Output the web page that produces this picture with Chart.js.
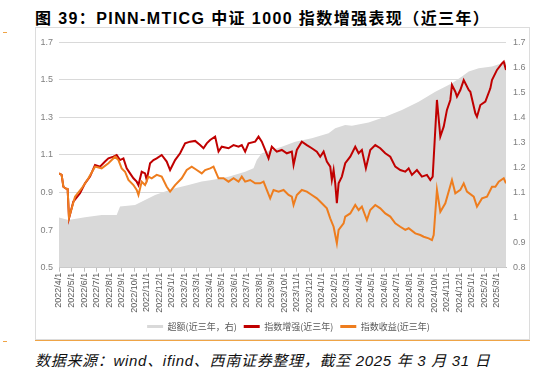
<!DOCTYPE html>
<html>
<head>
<meta charset="utf-8">
<script src="https://cdn.jsdelivr.net/npm/chart.js@4.4.1/dist/chart.umd.min.js"></script>
<style>
  body { margin:0; width:537px; height:376px; background:#fff; position:relative; overflow:hidden;
         font-family:"Liberation Sans","Noto Sans CJK SC",sans-serif; }
  #title { position:absolute; left:35px; top:5px; font-size:16px; font-weight:bold; letter-spacing:1.4px;
           white-space:nowrap; color:#000; }
  #box { position:absolute; left:35px; top:27px; width:495px; height:313px; border:1px solid #dcdcdc;
         box-sizing:border-box; }
  #rule { position:absolute; left:35px; top:340px; width:495px; height:0; border-top:1.5px solid #efa446; }
  .dash { position:absolute; left:3px; width:4px; height:1px; background:#efa446; }
  #src { position:absolute; left:35px; top:349px; font-size:15px; font-style:italic; letter-spacing:0.7px;
         white-space:nowrap; color:#111; }
  #chart { position:absolute; left:36px; top:28px; }
</style>
</head>
<body>
<div id="title">图 39：PINN-MTICG 中证 1000 指数增强表现（近三年）</div>
<div class="dash" style="top:32px"></div>
<div class="dash" style="top:341px"></div>
<div id="box"></div>
<canvas id="chart" width="493" height="311"></canvas>
<div id="rule"></div>
<div id="src">数据来源：wind、ifind、西南证券整理，截至 2025 年 3 月 31 日</div>
<script>
// month offsets from 2022/4/1
const monthLabels = [
  '2022/4/1','2022/5/1','2022/6/1','2022/7/1','2022/8/1','2022/9/1','2022/10/1','2022/11/1','2022/12/1',
  '2023/1/1','2023/2/1','2023/3/1','2023/4/1','2023/5/1','2023/6/1','2023/7/1','2023/8/1','2023/9/1',
  '2023/10/1','2023/11/1','2023/12/1','2024/1/1','2024/2/1','2024/3/1','2024/4/1','2024/5/1','2024/6/1',
  '2024/7/1','2024/8/1','2024/9/1','2024/10/1','2024/11/1','2024/12/1','2025/1/1','2025/2/1','2025/3/1'
];

// 超额 (right axis)
const excessX = [0,0.75,2.08,3.41,4.61,4.88,6.08,6.88,7.68,8.48,9.28,10.35,11.41,12.21,13.55,14.88,15.55,15.81,
  16.21,17.01,17.81,18.88,20.21,21.55,22.08,22.88,23.41,24.75,26.08,27.41,28.75,30.08,31.41,32.21,32.75,33.55,
  34.61,35.41,35.73];
const excessY = [1.000,0.990,1.001,1.010,1.010,1.044,1.050,1.070,1.090,1.104,1.117,1.130,1.144,1.150,1.163,1.183,
  1.197,1.230,1.257,1.270,1.283,1.303,1.317,1.337,1.357,1.370,1.367,1.380,1.403,1.430,1.463,1.503,1.536,1.563,
  1.583,1.596,1.603,1.616,1.623];

// 指数增强 (left axis)
const enhancedX = [0,0.21,0.35,0.53,0.69,0.80,1.15,1.68,2.08,2.48,2.88,3.28,3.68,3.95,4.35,4.61,4.88,5.15,5.41,
  5.68,5.95,6.21,6.35,6.61,6.88,7.01,7.28,7.55,7.81,8.21,8.61,8.88,9.28,9.68,10.08,10.48,10.88,11.28,11.55,11.81,
  12.08,12.48,12.75,13.01,13.55,13.95,14.35,14.61,14.88,15.15,15.68,15.95,16.21,16.48,16.75,17.01,17.41,17.81,
  18.21,18.61,18.75,19.01,19.41,19.81,20.21,20.61,20.88,21.15,21.41,21.68,21.81,21.95,22.08,22.21,22.35,22.61,
  22.88,23.28,23.68,23.95,24.21,24.53,24.88,25.28,25.68,26.08,26.48,26.88,27.28,27.68,27.95,28.21,28.61,29.01,
  29.41,29.68,29.87,30.21,30.48,30.75,31.01,31.28,31.41,31.68,31.81,32.08,32.35,32.75,32.88,33.28,33.41,33.68,
  34.08,34.48,34.61,35.01,35.41,35.55,35.73];
const enhancedY = [1.002,0.994,0.931,0.922,0.919,0.763,0.852,0.896,0.949,0.985,1.047,1.038,1.065,1.082,1.091,
  1.100,1.073,1.082,1.029,1.002,0.976,0.958,0.940,1.011,1.002,0.967,1.056,1.073,1.082,1.100,1.065,1.020,1.073,
  1.109,1.162,1.171,1.175,1.153,1.136,1.162,1.180,1.198,1.118,1.144,1.136,1.153,1.144,1.153,1.118,1.162,1.171,
  1.198,1.171,1.127,1.082,1.144,1.118,1.127,1.109,1.118,1.047,1.127,1.171,1.153,1.136,1.118,1.091,1.118,1.065,
  1.038,0.967,1.020,0.949,0.843,0.949,0.985,1.056,1.091,1.144,1.109,1.127,1.029,1.127,1.153,1.136,1.109,1.091,
  1.038,1.020,1.011,1.029,0.994,1.020,0.985,0.994,0.967,0.985,1.393,1.198,1.251,1.340,1.393,1.473,1.437,1.411,
  1.446,1.499,1.446,1.437,1.322,1.304,1.366,1.384,1.455,1.499,1.553,1.588,1.597,1.553];

// 指数收益 (left axis)
const indexX = [0,0.21,0.35,0.53,0.69,0.80,1.28,1.81,2.35,2.88,3.41,3.95,4.48,4.75,5.01,5.28,5.55,5.95,6.21,6.35,
  6.61,6.88,7.15,7.41,7.81,8.21,8.61,8.88,9.28,9.81,10.21,10.61,11.01,11.41,11.68,12.08,12.35,12.75,13.15,13.55,
  13.95,14.35,14.61,14.88,15.28,15.68,16.08,16.35,16.61,16.88,17.15,17.55,17.95,18.35,18.61,18.75,19.01,19.41,
  19.81,20.21,20.61,21.01,21.41,21.68,21.95,22.21,22.35,22.75,22.88,23.28,23.68,23.95,24.21,24.61,24.88,25.28,
  25.68,26.08,26.48,26.88,27.28,27.68,27.95,28.48,28.88,29.15,29.55,29.81,29.95,30.21,30.48,30.88,31.41,31.68,
  32.08,32.35,32.61,33.15,33.41,33.81,34.21,34.61,34.88,35.15,35.55,35.73];
const indexY = [1.002,0.994,0.931,0.922,0.919,0.766,0.878,0.922,0.976,1.038,1.029,1.056,1.091,1.073,1.029,1.011,
  0.967,0.940,0.914,0.887,0.958,0.940,0.985,0.976,0.994,0.985,0.931,0.905,0.940,0.976,1.020,1.038,1.020,1.002,
  1.020,1.029,1.038,0.976,0.976,0.958,0.976,0.958,0.985,0.958,0.967,0.949,0.949,0.958,0.914,0.869,0.914,0.905,
  0.914,0.887,0.878,0.834,0.887,0.914,0.905,0.887,0.869,0.843,0.816,0.763,0.718,0.630,0.701,0.736,0.772,0.789,
  0.834,0.807,0.825,0.754,0.807,0.834,0.816,0.789,0.772,0.736,0.718,0.701,0.710,0.683,0.674,0.665,0.656,0.647,
  0.674,0.914,0.798,0.843,0.967,0.896,0.914,0.949,0.905,0.878,0.825,0.869,0.878,0.931,0.931,0.958,0.976,0.949];

const toXY = (xs, ys) => xs.map((x, i) => ({ x, y: ys[i] }));
const GREY = '#d9d9d9', RED = '#c00000', ORANGE = '#ee7d1e';
const tickFont = { family: 'Liberation Sans', size: 9 };

// nudge the legend right/down so it sits where the original one does
const legendShift = {
  id: 'legendShift',
  afterLayout(chart) {
    const lg = chart.legend;
    lg.left += 6; lg.right += 6;
    lg.top += 2; lg.bottom += 2;
  }
};

new Chart(document.getElementById('chart'), {
  type: 'line',
  data: {
    datasets: [
      { label: '超额(近三年，右)', data: toXY(excessX, excessY), yAxisID: 'y1',
        borderWidth: 0, borderColor: GREY, backgroundColor: GREY, fill: 'start', pointRadius: 0, order: 3 },
      { label: '指数增强(近三年)', data: toXY(enhancedX, enhancedY), yAxisID: 'y',
        borderWidth: 2, borderColor: RED, backgroundColor: RED, fill: false, pointRadius: 0, order: 2 },
      { label: '指数收益(近三年)', data: toXY(indexX, indexY), yAxisID: 'y',
        borderWidth: 2, borderColor: ORANGE, backgroundColor: ORANGE, fill: false, pointRadius: 0, order: 1 },
    ]
  },
  options: {
    responsive: false,
    animation: false,
    layout: { padding: { top: 14.3, left: 0, right: 0, bottom: 0 } },
    plugins: {
      tooltip: { enabled: false },
      legend: {
        position: 'bottom',
        labels: {
          font: { family: 'Noto Sans CJK SC', size: 9 }, color: '#595959',
          boxWidth: 16, boxHeight: 3, padding: 7,
          sort: (a, b) => a.datasetIndex - b.datasetIndex,
          generateLabels: chart => Chart.defaults.plugins.legend.labels.generateLabels(chart)
            .map(l => ({ ...l, lineWidth: 0 }))
        }
      }
    },
    scales: {
      x: {
        type: 'linear', min: 0, max: 35.73,
        grid: { drawOnChartArea: false, drawTicks: true, tickLength: 4, color: '#bfbfbf' },
        border: { display: true, color: '#bfbfbf' },
        ticks: { stepSize: 1, includeBounds: false, autoSkip: false, maxRotation: 90, minRotation: 90,
                 padding: 1, font: tickFont, color: '#595959',
                 callback: v => monthLabels[v] },
        afterFit: s => { s.height = 45.3; }
      },
      y: {
        position: 'left', min: 0.5, max: 1.7,
        grid: { color: '#d9d9d9', drawTicks: false },
        border: { display: false },
        ticks: { stepSize: 0.2, padding: 6, font: tickFont, color: '#7f7f7f', callback: v => v.toFixed(1) },
        afterFit: s => { s.width = 23; }
      },
      y1: {
        position: 'right', min: 0.8, max: 1.7,
        grid: { display: false, drawTicks: false },
        border: { display: false },
        ticks: { stepSize: 0.1, padding: 7, font: tickFont, color: '#7f7f7f', callback: v => String(+v.toFixed(1)) },
        afterFit: s => { s.width = 23; }
      }
    }
  },
  plugins: [legendShift]
});
</script>
</body>
</html>
